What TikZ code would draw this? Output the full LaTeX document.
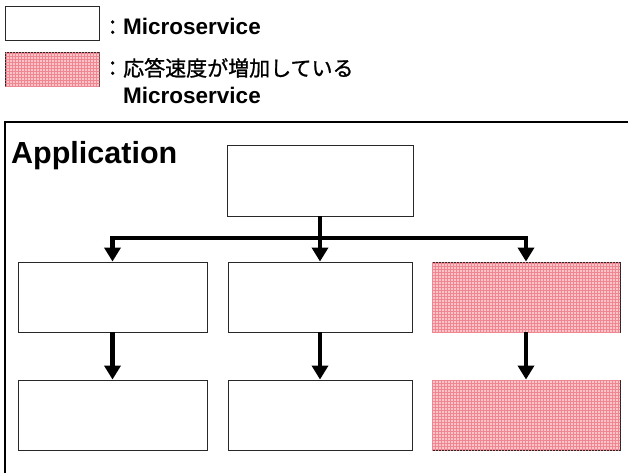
\documentclass[tikz,border=0pt]{standalone}
\usepackage{fontspec}
\setmainfont{Liberation Sans}
\newfontfamily\cjk{Noto Sans CJK JP}[FakeBold=1.0]
\usetikzlibrary{arrows.meta,patterns}
\definecolor{hotbg}{RGB}{255,196,200}
\definecolor{hotline}{RGB}{238,135,145}
\definecolor{edge}{RGB}{40,40,40}
\tikzset{
  svc/.style={draw=edge, line width=0.9pt, fill=white, inner sep=0pt},
  hot/.style={svc, fill=hotbg, postaction={pattern=grid, pattern color=hotline}},
  flow/.style={line width=4.8pt, line join=miter, -{Triangle[width=16pt,length=14pt]}},
  legend/.style={anchor=base west, inner sep=0pt, font=\fontsize{22.5}{26}\selectfont\bfseries},
}
\begin{document}
\begin{tikzpicture}[x=1pt,y=-1pt]
\useasboundingbox (0,0) rectangle (628,473);

% legend
\node[svc, minimum width=94pt, minimum height=34pt, anchor=north west] (keyplain) at (5,6) {};
\node[hot, minimum width=94pt, minimum height=34pt, anchor=north west] (keyhot) at (5,52) {};
\node[legend] (keyplaintxt) at (102,35) {{\cjk\mdseries\fontsize{21}{24}\selectfont ：}Microservice};
\node[legend] (keyhottxt) at (102,76) {{\cjk\mdseries\fontsize{21}{24}\selectfont ：応答速度が増加している}};
\node[legend] (keyhottxt2) at (123,104) {Microservice};

% application frame
\draw[line width=1.4pt] (628,122) -- (5,122) -- (5,473);
\node[anchor=base west, inner sep=0pt, font=\fontsize{30.5}{36}\selectfont\bfseries] (app) at (11,164) {Application};

% services
\node[svc, minimum width=186pt, minimum height=71pt] (top) at (320,180.5) {};
\node[svc, minimum width=189pt, minimum height=70pt] (a2) at (112.5,297) {};
\node[svc, minimum width=184pt, minimum height=70pt] (b2) at (320,297) {};
\node[hot, minimum width=188pt, minimum height=70pt] (c2) at (526,297) {};
\node[svc, minimum width=189pt, minimum height=70pt] (a3) at (112.5,415) {};
\node[svc, minimum width=184pt, minimum height=70pt] (b3) at (320,415) {};
\node[hot, minimum width=188pt, minimum height=70pt] (c3) at (526,415) {};

% calls
\coordinate (bus) at (320,238);
\draw[flow] (top.south) -- (bus) -| (a2.north);
\draw[flow] (top.south) -- (bus) -| (c2.north);
\draw[flow] (top.south) -- (b2.north);
\draw[flow] (a2.south) -- (a3.north);
\draw[flow] (b2.south) -- (b3.north);
\draw[flow] (c2.south) -- (c3.north);
\end{tikzpicture}
\end{document}
